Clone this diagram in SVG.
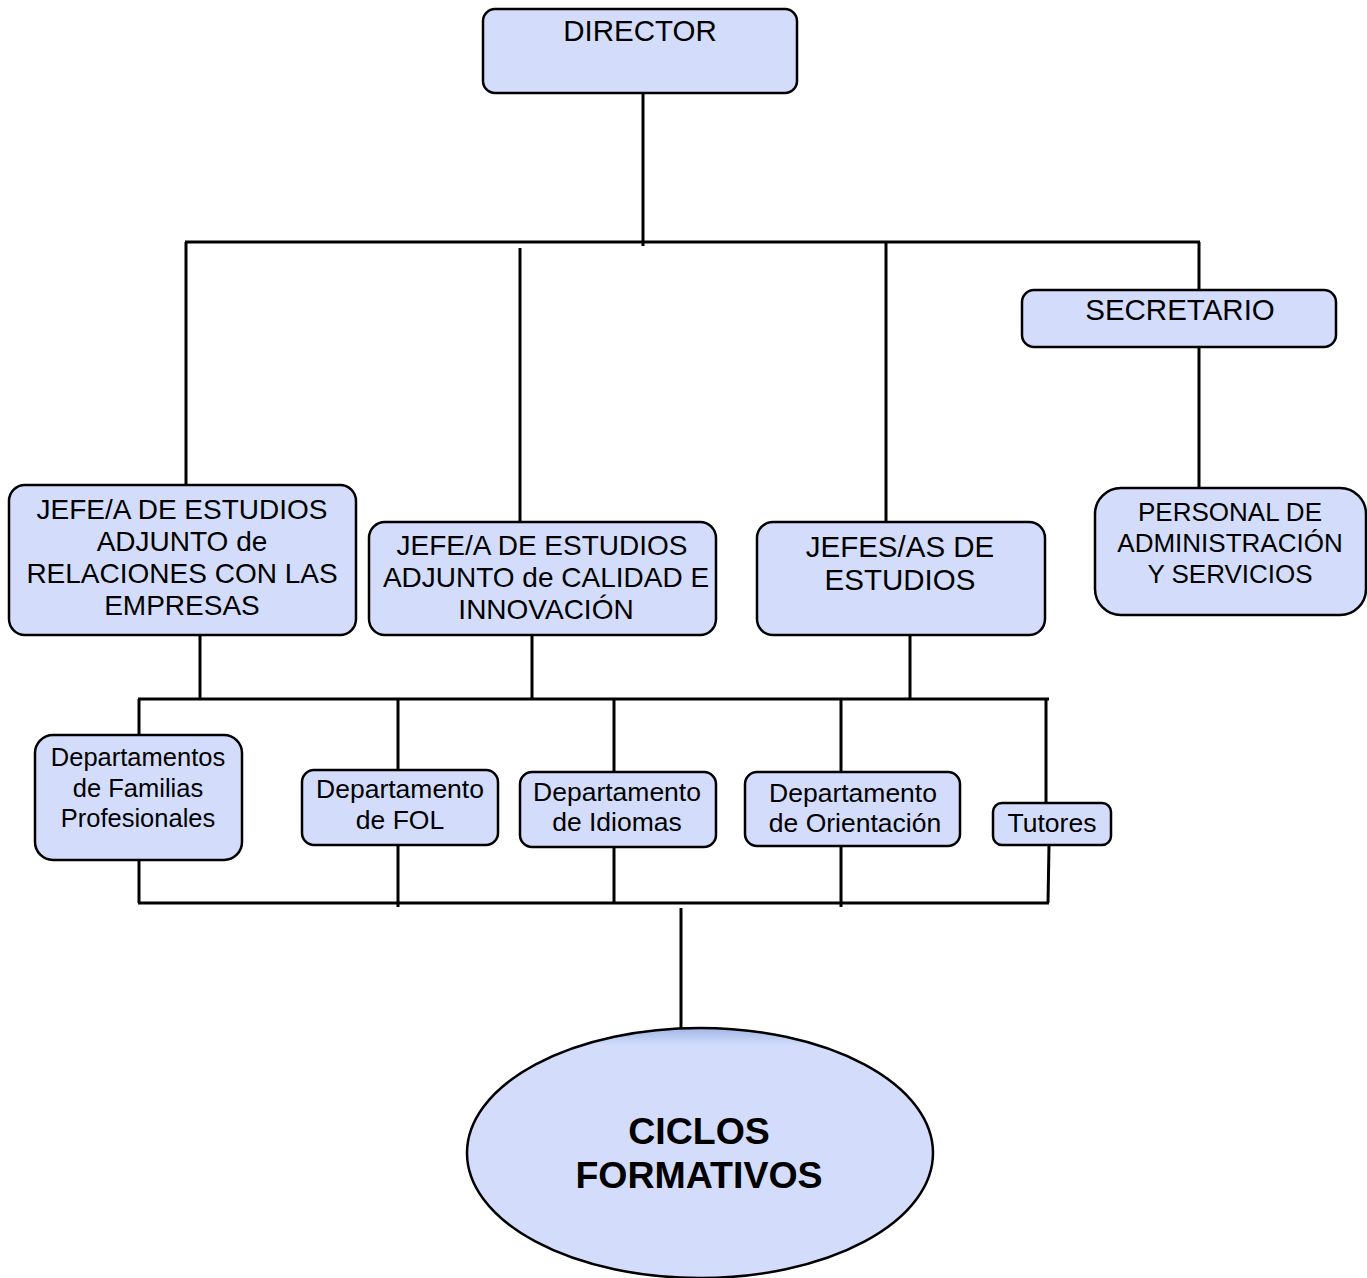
<svg xmlns="http://www.w3.org/2000/svg" width="1367" height="1278" viewBox="0 0 1367 1278">
<style>
.box{fill:#D3DDFB;stroke:#000;stroke-width:2.5}
.ln{stroke:#000;stroke-width:3;fill:none}
text{font-family:"Liberation Sans",Arial,sans-serif;fill:#000;text-anchor:middle}
.t29{font-size:29.5px}
.t28{font-size:28px}
.t26{font-size:26px}
.t265{font-size:26.5px}
.t255{font-size:25.5px}
.big{font-size:37.5px;font-weight:bold}
</style>
<defs>
<linearGradient id="eg" x1="0" y1="0" x2="0" y2="1">
<stop offset="0" stop-color="#9FB6E6"/>
<stop offset="0.07" stop-color="#D3DDFB"/>
<stop offset="1" stop-color="#D3DDFB"/>
</linearGradient>
</defs>
<rect width="1367" height="1278" fill="#fff"/>
<g id="connectors">
<line class="ln" x1="643" y1="93" x2="643" y2="246"/>
<line class="ln" x1="185" y1="242" x2="1200" y2="242"/>
<line class="ln" x1="186" y1="242" x2="186" y2="487"/>
<line class="ln" x1="520" y1="248" x2="520" y2="522"/>
<line class="ln" x1="886" y1="242" x2="886" y2="522"/>
<line class="ln" x1="1199" y1="242" x2="1199" y2="290"/>
<line class="ln" x1="1199" y1="347" x2="1199" y2="489"/>
<line class="ln" x1="200" y1="635" x2="200" y2="699"/>
<line class="ln" x1="532" y1="635" x2="532" y2="699"/>
<line class="ln" x1="910" y1="635" x2="910" y2="699"/>
<line class="ln" x1="138" y1="699" x2="1049" y2="699"/>
<line class="ln" x1="139" y1="699" x2="139" y2="735"/>
<line class="ln" x1="398" y1="699" x2="398" y2="770"/>
<line class="ln" x1="614" y1="699" x2="614" y2="772"/>
<line class="ln" x1="841" y1="699" x2="841" y2="772"/>
<line class="ln" x1="1046" y1="699" x2="1046" y2="803"/>
<line class="ln" x1="139" y1="860" x2="139" y2="903"/>
<line class="ln" x1="398" y1="845" x2="398" y2="907"/>
<line class="ln" x1="614" y1="847" x2="614" y2="903"/>
<line class="ln" x1="841" y1="846" x2="841" y2="907"/>
<line class="ln" x1="1049" y1="845" x2="1048" y2="903"/>
<line class="ln" x1="138" y1="903" x2="1049" y2="903"/>
<line class="ln" x1="681" y1="908" x2="681" y2="1029"/>
</g>
<g id="director">
<rect class="box" x="483" y="9" width="314" height="84" rx="12"/>
<text class="t29" x="640" y="41">DIRECTOR</text>
</g>
<g id="secretario">
<rect class="box" x="1022" y="290" width="314" height="57" rx="12"/>
<text class="t29" x="1180" y="320">SECRETARIO</text>
</g>
<g id="personal">
<rect class="box" x="1095" y="488" width="271" height="127" rx="26"/>
<text class="t26" x="1230" y="521">PERSONAL DE</text>
<text class="t26" x="1230" y="552">ADMINISTRACIÓN</text>
<text class="t26" x="1230" y="583">Y SERVICIOS</text>
</g>
<g id="jefe-relaciones">
<rect class="box" x="9" y="485" width="347" height="150" rx="16"/>
<text class="t28" x="182" y="519">JEFE/A DE ESTUDIOS</text>
<text class="t28" x="182" y="551">ADJUNTO de</text>
<text class="t28" x="182" y="583">RELACIONES CON LAS</text>
<text class="t28" x="182" y="615">EMPRESAS</text>
</g>
<g id="jefe-calidad">
<rect class="box" x="369" y="522" width="347" height="113" rx="16"/>
<text class="t28" x="542" y="555">JEFE/A DE ESTUDIOS</text>
<text class="t28" x="546" y="587">ADJUNTO de CALIDAD E</text>
<text class="t28" x="546" y="619">INNOVACIÓN</text>
</g>
<g id="jefes-estudios">
<rect class="box" x="757" y="522" width="288" height="113" rx="16"/>
<text class="t29" x="900" y="557">JEFES/AS DE</text>
<text class="t29" x="900" y="590">ESTUDIOS</text>
</g>
<g id="familias">
<rect class="box" x="35" y="735" width="207" height="125" rx="18"/>
<text class="t255" x="138" y="766">Departamentos</text>
<text class="t255" x="138" y="797">de Familias</text>
<text class="t255" x="138" y="827">Profesionales</text>
</g>
<g id="fol">
<rect class="box" x="302" y="770" width="196" height="75" rx="12"/>
<text class="t265" x="400" y="798">Departamento</text>
<text class="t265" x="400" y="829">de FOL</text>
</g>
<g id="idiomas">
<rect class="box" x="520" y="772" width="196" height="75" rx="12"/>
<text class="t265" x="617" y="801">Departamento</text>
<text class="t265" x="617" y="831">de Idiomas</text>
</g>
<g id="orientacion">
<rect class="box" x="745" y="772" width="215" height="74" rx="12"/>
<text class="t265" x="853" y="802">Departamento</text>
<text class="t265" x="855" y="832">de Orientación</text>
</g>
<g id="tutores">
<rect class="box" x="993" y="803" width="118" height="42" rx="9"/>
<text class="t265" x="1052" y="832">Tutores</text>
</g>
<g id="ciclos">
<ellipse cx="700" cy="1153" rx="233" ry="125" fill="url(#eg)" stroke="#000" stroke-width="2.5"/>
<text class="big" x="699" y="1144">CICLOS</text>
<text class="big" x="699" y="1188">FORMATIVOS</text>
</g>
</svg>
